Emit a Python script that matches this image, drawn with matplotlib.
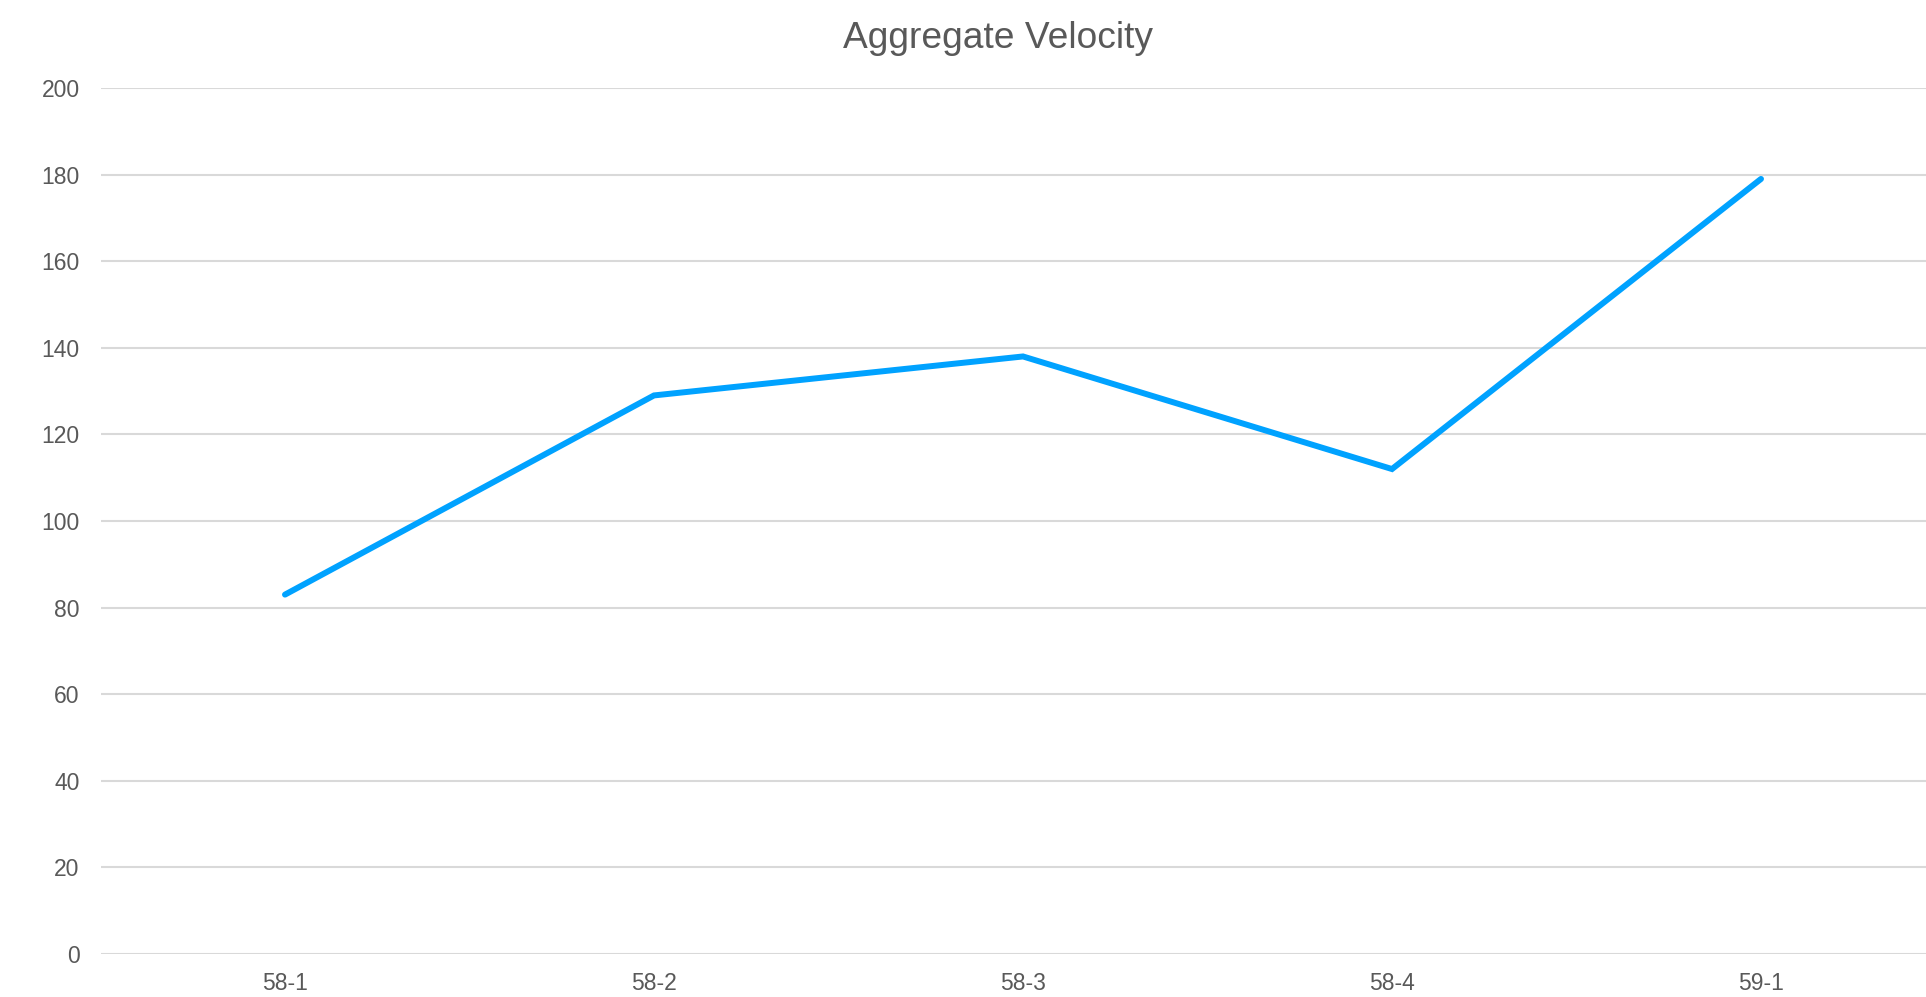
import matplotlib.pyplot as plt

# sprint labels and aggregate velocity
sprints = ["58-1", "58-2", "58-3", "58-4", "59-1"]
velocity = [83, 129, 138, 112, 179]
yticks = [0, 20, 40, 60, 80, 100, 120, 140, 160, 180, 200]

plt.rcParams['font.family'] = ['Liberation Sans', 'DejaVu Sans']
text_col = '#595959'
grid_col = '#d9d9d9'

fig = plt.figure(figsize=(19.26, 9.97), dpi=100)
W, H = 1926, 997
left, right = 100.5, 1945.5
top, bottom = 88, 954
ax = fig.add_axes([left / W, 1 - bottom / H, (right - left) / W, (bottom - top) / H])

x = range(len(sprints))
ax.plot(x, velocity, color='#00a2ff', linewidth=4.3, solid_capstyle='round',
        solid_joinstyle='miter', zorder=3)

ax.set_xlim(-0.5, len(sprints) - 0.5)
ax.set_ylim(0, 200)
ax.set_yticks(yticks)
ax.set_xticks(list(x))
ax.set_xticklabels(sprints)
ax.tick_params(length=0, labelsize=16.5, colors=text_col)
ax.tick_params(axis='y', pad=15)
ax.tick_params(axis='x', pad=13)
ax.grid(axis='y', color=grid_col, linewidth=1.5)
ax.set_axisbelow(True)
for s in ax.spines.values():
    s.set_visible(False)

fig.text(998 / W, 1 - 38 / H, "Aggregate Velocity", ha='center', va='center',
         fontsize=26.7, color=text_col)

fig.savefig("out.png", dpi=100)
